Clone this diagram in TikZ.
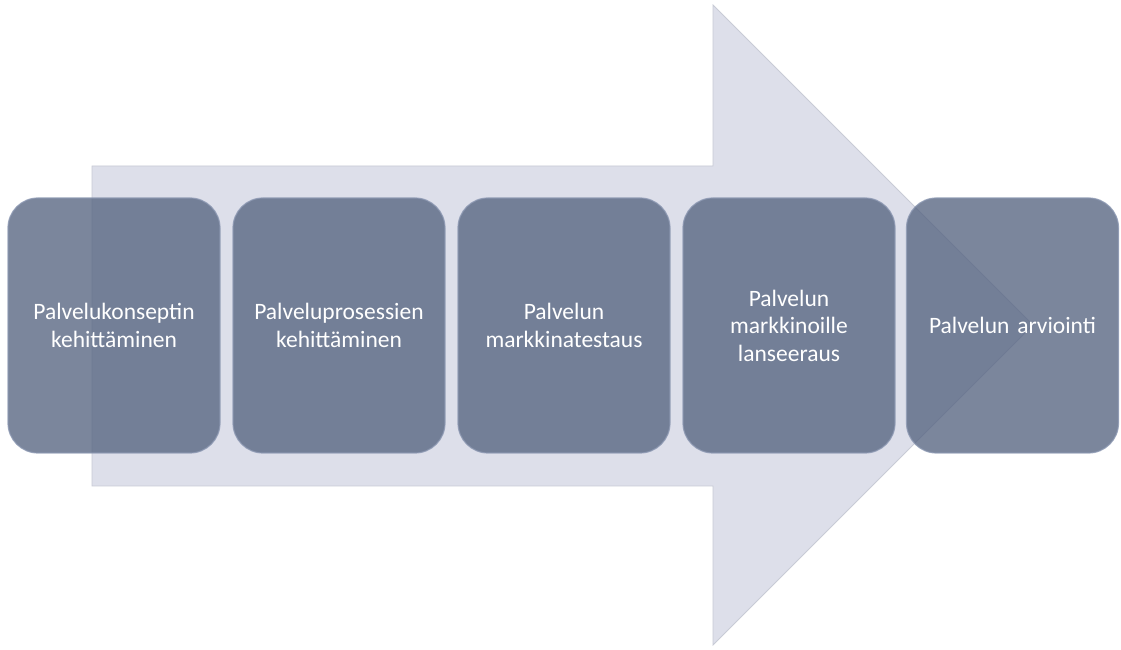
\documentclass[tikz,border=0pt]{standalone}
\usepackage{fontspec}
\setmainfont{Carlito}
\definecolor{arrowfill}{RGB}{221,223,234}
\definecolor{arrowedge}{RGB}{200,203,214}
\definecolor{boxfill}{RGB}{82,97,126}
\definecolor{boxedge}{RGB}{140,152,178}
\begin{document}
\begin{tikzpicture}[x=1pt,y=1pt,
  stagebox/.style={draw=boxedge, line width=1.2pt, fill=boxfill, fill opacity=0.76, draw opacity=0.8,
    text opacity=1, rounded corners=30pt, minimum width=212pt, minimum height=255pt,
    text=white, align=center, font=\fontsize{23.5}{27.5}\selectfont, inner sep=2pt, text width=208pt}]
\useasboundingbox (0,0) rectangle (1121,650);
\fill[white] (0,0) rectangle (1121,650);
% big arrow
\draw[fill=arrowfill, draw=arrowedge, line width=0.8pt]
  (92,484) -- (713,484) -- (713,645) -- (1033,325) -- (713,5) -- (713,164) -- (92,164) -- cycle;
% stages
\node[stagebox] (s1) at (114,324.5) {Palvelukonseptin\\kehittäminen};
\node[stagebox] (s2) at (339,324.5) {Palveluprosessien\\kehittäminen};
\node[stagebox] (s3) at (564,324.5) {Palvelun\\markkinatestaus};
\node[stagebox] (s4) at (789,324.5) {Palvelun\\markkinoille\\lanseeraus};
\node[stagebox] (s5) at (1012.5,324.5) {Palvelun arviointi};
\end{tikzpicture}
\end{document}
